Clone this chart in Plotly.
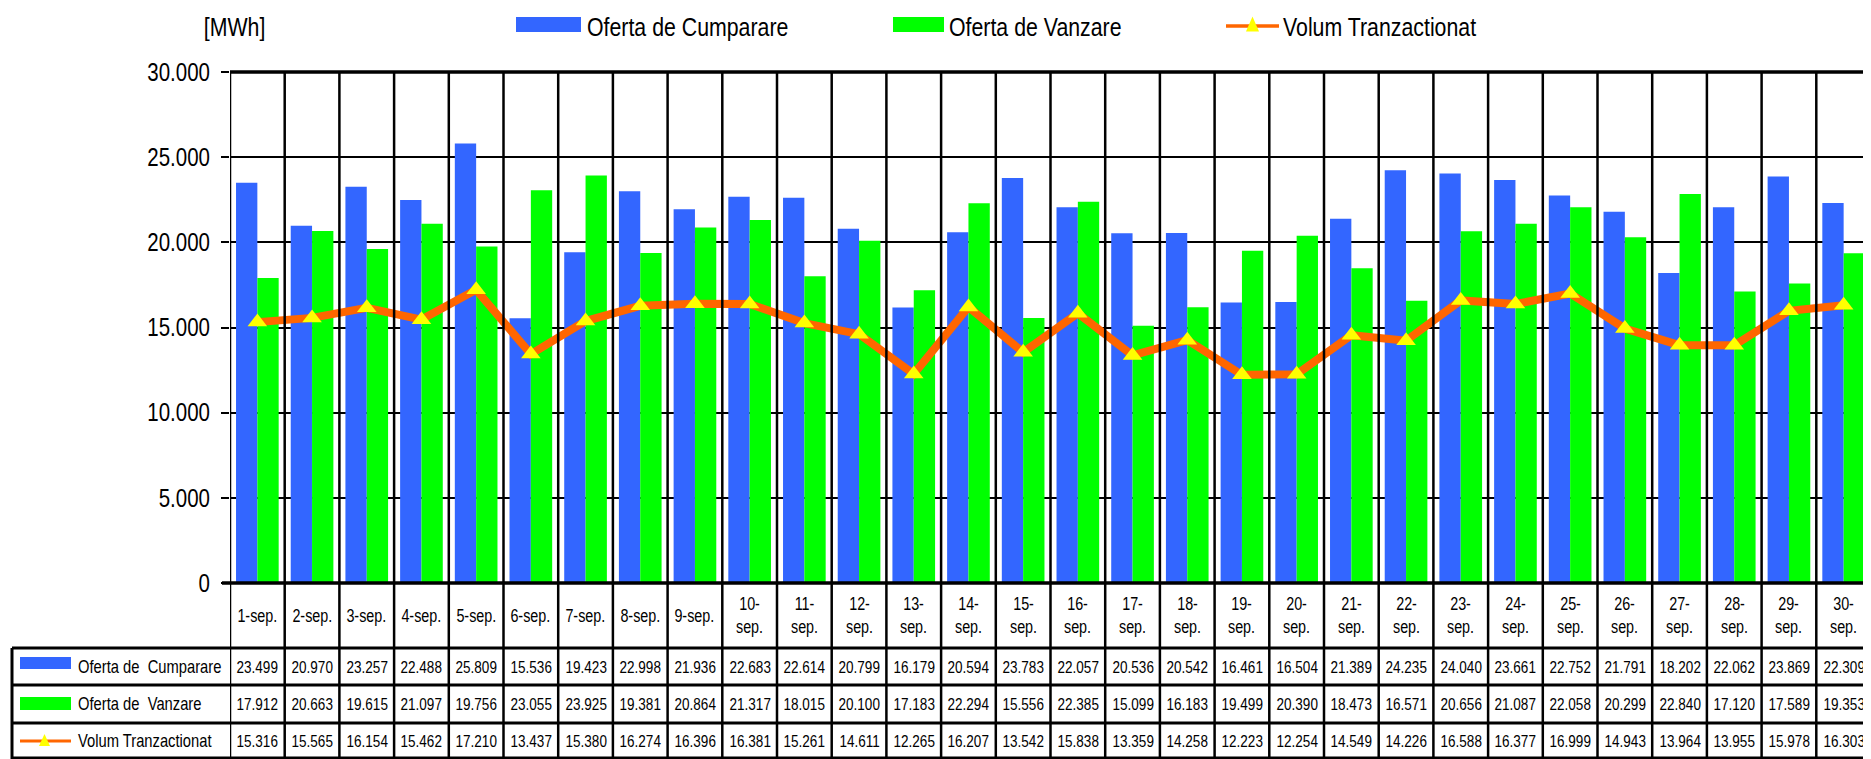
import plotly.graph_objects as go

# ---------------- data ----------------
days = [f"{d}-sep." for d in range(1, 31)]
oferta_cumparare = [23499, 20970, 23257, 22488, 25809, 15536, 19423, 22998, 21936, 22683,
                    22614, 20799, 16179, 20594, 23783, 22057, 20536, 20542, 16461, 16504,
                    21389, 24235, 24040, 23661, 22752, 21791, 18202, 22062, 23869, 22309]
oferta_vanzare = [17912, 20663, 19615, 21097, 19756, 23055, 23925, 19381, 20864, 21317,
                  18015, 20100, 17183, 22294, 15556, 22385, 15099, 16183, 19499, 20390,
                  18473, 16571, 20656, 21087, 22058, 20299, 22840, 17120, 17589, 19353]
volum_tranzactionat = [15316, 15565, 16154, 15462, 17210, 13437, 15380, 16274, 16396, 16381,
                       15261, 14611, 12265, 16207, 13542, 15838, 13359, 14258, 12223, 12254,
                       14549, 14226, 16588, 16377, 16999, 14943, 13964, 13955, 15978, 16303]
series_names = ["Oferta de Cumparare", "Oferta de Vanzare", "Volum Tranzactionat"]
table_names = ["Oferta de  Cumparare", "Oferta de  Vanzare", "Volum Tranzactionat"]
y_ticks = [0, 5000, 10000, 15000, 20000, 25000, 30000]
unit_label = "[MWh]"

# ---------------- style ----------------
BLUE = "#3366FF"
GREEN = "#00FF00"
ORANGE = "#FF6600"
YELLOW = "#FFFF00"
FONT = "Liberation Sans, Arial, sans-serif"
NARROW = 0.82                # horizontal squeeze of text (Arial Narrow look)

OFF = 8                      # default page (body) margin of the html page
PAGE_W, PAGE_H = 1871, 759
W, H = PAGE_W - OFF, PAGE_H - OFF
# plot area in page pixels
L, R, T, B = 230, 1871, 72, 583
PW, PH = R - L, B - T


def px(x):
    return (x - L) / PW


def py(y):
    return (B - y) / PH


def fmt(v):
    return f"{v:,}".replace(",", ".")


n = len(days)
fig = go.Figure()
fig.add_trace(go.Bar(x=days, y=oferta_cumparare, name=series_names[0],
                     marker=dict(color=BLUE, line=dict(width=0))))
fig.add_trace(go.Bar(x=days, y=oferta_vanzare, name=series_names[1],
                     marker=dict(color=GREEN, line=dict(width=0))))
fig.add_trace(go.Scatter(x=days, y=volum_tranzactionat, name=series_names[2],
                         mode="lines+markers",
                         line=dict(color=ORANGE, width=8),
                         marker=dict(symbol="triangle-up", size=17, color=YELLOW,
                                     line=dict(width=0))))

shapes = []
annotations = []

# rows of the table (page pixel y)
row_cat_bottom = 648
row_lines = [685, 723, 758]
row_centers = [666.5, 704, 741]
table_left = 12

# vertical category boundaries
for i in range(n + 1):
    shapes.append(dict(type="line", xref="x", yref="paper", x0=i - 0.5, x1=i - 0.5,
                       y0=py(760), y1=1, line=dict(color="black", width=2.5), layer="above"))
# top border & zero line
shapes.append(dict(type="line", xref="paper", yref="paper", x0=0, x1=1, y0=1, y1=1,
                   line=dict(color="black", width=3.5), layer="above"))
shapes.append(dict(type="line", xref="paper", yref="paper", x0=px(222), x1=1, y0=0, y1=0,
                   line=dict(color="black", width=3.5), layer="above"))
# table horizontal lines
for yl in [row_cat_bottom] + row_lines:
    shapes.append(dict(type="line", xref="paper", yref="paper", x0=px(table_left), x1=1,
                       y0=py(yl), y1=py(yl), line=dict(color="black", width=3), layer="above"))
# table left border
shapes.append(dict(type="line", xref="paper", yref="paper", x0=px(table_left), x1=px(table_left),
                   y0=py(row_cat_bottom), y1=py(759), line=dict(color="black", width=3), layer="above"))

# category labels
for i, d in enumerate(days):
    num, rest = d.split("-", 1)
    label = d if len(num) == 1 else f"{num}-<br>{rest}"
    annotations.append(dict(x=i, y=py((B + row_cat_bottom) / 2), xref="x", yref="paper",
                            text=label, showarrow=False, xanchor="center", yanchor="middle",
                            font=dict(family=FONT, size=17.5, color="black")))

# table values
for r, vals in enumerate([oferta_cumparare, oferta_vanzare, volum_tranzactionat]):
    for i, v in enumerate(vals):
        annotations.append(dict(x=i, y=py(row_centers[r]), xref="x", yref="paper",
                                text=fmt(v), showarrow=False, xanchor="center", yanchor="middle",
                                font=dict(family=FONT, size=16.5, color="black")))
    annotations.append(dict(x=px(76), y=py(row_centers[r]), xref="paper", yref="paper",
                            text=table_names[r], showarrow=False, xanchor="left", align="left",
                            yanchor="middle",
                            font=dict(family=FONT, size=18, color="black")))


def triangle(cx, cy, w, h, color):
    p = (f"M {px(cx - w / 2)},{py(cy + h / 2)} L {px(cx + w / 2)},{py(cy + h / 2)} "
         f"L {px(cx)},{py(cy - h / 2)} Z")
    return dict(type="path", xref="paper", yref="paper", path=p,
                fillcolor=color, line=dict(width=0), layer="above")


# table legend keys
shapes.append(dict(type="rect", xref="paper", yref="paper", x0=px(20), x1=px(71),
                   y0=py(669), y1=py(657), fillcolor=BLUE, line=dict(width=0), layer="above"))
shapes.append(dict(type="rect", xref="paper", yref="paper", x0=px(20), x1=px(71),
                   y0=py(710), y1=py(697), fillcolor=GREEN, line=dict(width=0), layer="above"))
shapes.append(dict(type="line", xref="paper", yref="paper", x0=px(20), x1=px(71),
                   y0=py(741), y1=py(741), line=dict(color=ORANGE, width=3), layer="above"))
shapes.append(triangle(44.5, 740, 11, 12, YELLOW))

# top legend
LEG_Y = 25
shapes.append(dict(type="rect", xref="paper", yref="paper", x0=px(516), x1=px(581),
                   y0=py(LEG_Y + 7), y1=py(LEG_Y - 8), fillcolor=BLUE, line=dict(width=0)))
shapes.append(dict(type="rect", xref="paper", yref="paper", x0=px(893), x1=px(944),
                   y0=py(LEG_Y + 7), y1=py(LEG_Y - 8), fillcolor=GREEN, line=dict(width=0)))
shapes.append(dict(type="line", xref="paper", yref="paper", x0=px(1226), x1=px(1279),
                   y0=py(LEG_Y + 1), y1=py(LEG_Y + 1), line=dict(color=ORANGE, width=3.5)))
shapes.append(triangle(1252.5, LEG_Y - 1, 13, 15, YELLOW))
for xs, name in zip([585, 947, 1281], series_names):
    annotations.append(dict(x=px(xs), y=py(LEG_Y + 2), xref="paper", yref="paper", text=name,
                            showarrow=False, xanchor="left", align="left", yanchor="middle",
                            font=dict(family=FONT, size=26, color="black")))
annotations.append(dict(x=px(234), y=py(LEG_Y + 2), xref="paper", yref="paper", text=unit_label,
                        showarrow=False, xanchor="center", yanchor="middle",
                        font=dict(family=FONT, size=26, color="black")))

fig.update_layout(
    width=W, height=H,
    margin=dict(l=L - OFF, r=PAGE_W - R, t=T - OFF, b=PAGE_H - B, pad=0),
    paper_bgcolor="white", plot_bgcolor="white",
    barmode="group", bargap=0.22, bargroupgap=0.0,
    showlegend=False,
    separators=",.",
    shapes=shapes,
    annotations=annotations,
    xaxis=dict(range=[-0.5, n - 0.5], showticklabels=False, showgrid=False,
               zeroline=False, showline=False, ticks=""),
    yaxis=dict(range=[0, 30000], tickvals=y_ticks, tickformat=",.0f",
               showgrid=True, gridcolor="black", gridwidth=2, zeroline=False,
               showline=False, ticks="outside", ticklen=8, tickwidth=2, tickcolor="black",
               ticklabelstandoff=6,
               tickfont=dict(family=FONT, size=25, color="black")),
    font=dict(family=FONT, color="black"),
)

# squeeze every text horizontally about its anchor, like the narrow font of the original
narrow_js = """
var gd = document.getElementById('{plot_id}');
var S = %s;
gd.querySelectorAll('svg text').forEach(function(t){
  var x = parseFloat(t.getAttribute('x')) || 0;
  var tr = t.getAttribute('transform') || '';
  t.setAttribute('transform', tr + ' translate(' + x + ',0) scale(' + S + ',1) translate(' + (-x) + ',0)');
});
""" % NARROW

fig.write_html("out.html", post_script=narrow_js)
